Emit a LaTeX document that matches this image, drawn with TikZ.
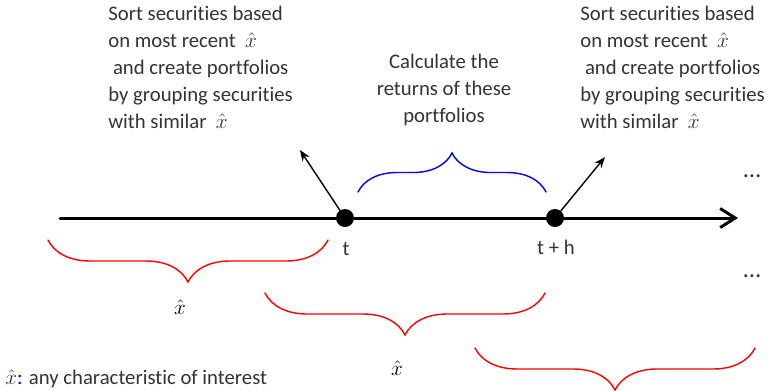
\documentclass[tikz,border=0pt]{standalone}
\usepackage{fontspec}
\setmainfont{Carlito}[Ligatures=NoCommon]
\usetikzlibrary{arrows.meta,decorations.pathreplacing}

\begin{document}
\begin{tikzpicture}[x=0.02cm,y=-0.02cm,font=\fontsize{11.8}{15.3}\selectfont,line cap=round,
  txt/.style={text=black!80,align=left,anchor=north west,inner sep=0pt},
  dot/.style={circle,fill=black,inner sep=0pt,minimum size=0.36cm},
  curly/.style={decorate,decoration={brace,amplitude=#1},line width=0.8pt},
  pointer/.style={-{Stealth[length=2.2mm,width=1.7mm]},line width=0.8pt}]
\useasboundingbox (0,0) rectangle (768,390);
% time axis
\coordinate (start) at (60,218);
\coordinate (stop) at (738,218);
\draw[line width=1.7pt,-{Straight Barb[length=3mm,width=3.8mm]}] (start) -- (stop);
\node[dot] (t) at (345,218) {};
\node[dot] (th) at (555,218) {};
\node[text=black!80] (tlab) at (346,249) {t};
\node[text=black!80] (thlab) at (556,247) {t + h};
\node[text=black!80,font=\fontsize{14}{16}\selectfont] (more1) at (752,176) {\ldots};
\node[text=black!80,font=\fontsize{14}{16}\selectfont] (more2) at (752,276) {\ldots};
% explanations
\node[txt] (sortA) at (108,6) {Sort securities based\\on most recent \ $\hat{x}$\\\ and create portfolios\\by grouping securities\\with similar \ $\hat{x}$};
\node[txt] (sortB) at (580,6) {Sort securities based\\on most recent \ $\hat{x}$\\\ and create portfolios\\by grouping securities\\with similar \ $\hat{x}$};
\node[txt,align=center,anchor=north] (calc) at (444,54) {Calculate the\\returns of these\\portfolios};
\coordinate (tipA) at (300,150);
\coordinate (tipB) at (605,157);
\draw[pointer] (t) -- (tipA);
\draw[pointer] (th) -- (tipB);
% braces
\draw[blue,curly=0.78cm] (358,192) -- (546,192);
\draw[red,curly=0.84cm,decoration={mirror}] (48,240) -- (328,240);
\draw[red,curly=0.84cm,decoration={mirror}] (265,293) -- (545,293);
\draw[red,curly=0.84cm,decoration={mirror}] (475,348) -- (755,348);
\node (xa) at (180,307) {$\hat{x}$};
\node (xb) at (397,368) {$\hat{x}$};
% legend
\node[txt,anchor=base west] (legend) at (5,384) {$\hat{x}$\textcolor{blue}{:} any characteristic of interest};
\end{tikzpicture}
\end{document}
